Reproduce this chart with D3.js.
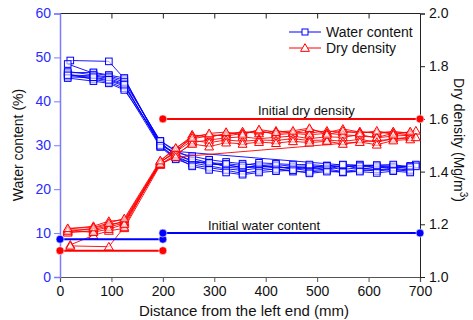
<!DOCTYPE html>
<html>
<head>
<meta charset="utf-8">
<script src="https://cdn.jsdelivr.net/npm/d3@7"></script>
<style>
  html, body { margin: 0; padding: 0; background: #fff; }
  svg { display: block; font-family: Arial, "Liberation Sans", Helvetica, sans-serif; }
</style>
</head>
<body>
<svg id="chart" width="473" height="320"></svg>
<script>
// Water content (%) profiles along the specimen, one array per test: [distance mm, value]
const water1 = [[20,49.3],[95,49.1],[125,45.2],[195,30.5],[225,28.0],[257,26.5],[290,25.8],[323,25.4],[355,25.0],[387,25.3],[420,24.8],[453,25.1],[485,24.6],[519,25.0],[550,24.5],[583,24.9],[616,24.4],[648,24.8],[681,24.3],[692,25.6]];
const water2 = [[15,48.5],[65,46.4],[95,45.8],[125,44.8],[195,30.8],[225,27.5],[257,25.9],[290,26.3],[323,25.0],[355,24.7],[387,25.5],[420,25.0],[453,24.9],[485,24.8],[519,25.4],[550,24.9],[583,25.6],[616,24.8],[648,25.2],[681,24.6]];
const water3 = [[15,46.5],[65,46.6],[95,46.0],[125,45.3],[195,30.0],[225,28.3],[257,27.5],[290,26.7],[323,26.2],[355,25.8],[387,25.4],[420,25.6],[453,25.2],[485,25.3],[519,25.0],[550,25.2],[583,25.1],[616,25.3],[648,24.9],[681,25.1]];
const water4 = [[15,46.0],[65,45.8],[95,45.2],[125,44.0],[195,29.8],[225,27.1],[257,26.0],[290,25.3],[323,24.6],[355,24.3],[387,24.8],[420,24.4],[453,24.7],[485,24.2],[519,24.6],[550,24.0],[583,24.5],[616,24.1],[648,24.6],[681,24.0]];
const water5 = [[15,45.6],[65,45.3],[95,44.7],[125,43.5],[195,30.3],[225,27.8],[257,26.4],[290,25.7],[323,25.6],[355,24.9],[387,25.0],[420,25.3],[453,24.5],[485,25.1],[519,24.4],[550,25.5],[583,24.6],[616,25.0],[648,25.0],[681,25.3]];
const water6 = [[15,46.2],[65,45.0],[95,44.4],[125,43.0],[195,29.6],[225,26.8],[257,25.5],[290,24.9],[323,24.3],[355,23.6],[387,24.2],[420,24.6],[453,24.0],[485,23.9],[519,24.3],[550,23.8],[583,24.2],[616,24.5],[648,24.3],[681,24.4]];
const water7 = [[15,45.3],[65,44.6],[95,44.1],[125,42.6],[195,30.9],[225,28.6],[550,25.5],[692,25.2]];
const water8 = [[15,46.8],[65,46.0],[95,45.5],[125,44.4],[195,31.0],[225,28.8],[257,27.0],[290,26.0],[323,25.8],[355,25.4],[387,26.0],[420,25.8],[453,25.6],[485,25.6],[519,25.3],[550,25.6],[583,25.4],[616,25.5],[648,25.6],[681,25.0]];
const water9 = [[15,45.9],[65,45.5],[95,44.9],[125,43.8],[195,29.9],[225,27.3],[257,25.2],[290,24.4],[323,23.8],[355,23.3],[387,23.8],[420,24.1],[453,24.3],[485,23.6],[519,24.0],[550,23.9],[583,24.0],[616,23.7],[648,24.1],[681,23.8]];

// Dry density (Mg/m3) profiles, one array per test: [distance mm, value]
const density1 = [[15,1.182],[65,1.193],[95,1.212],[125,1.217],[195,1.438],[225,1.470],[257,1.540],[290,1.530],[323,1.545],[355,1.548],[387,1.552],[420,1.545],[453,1.550],[485,1.546],[519,1.555],[550,1.548],[583,1.552],[616,1.545],[648,1.550],[681,1.548],[692,1.555]];
const density2 = [[15,1.172],[65,1.185],[95,1.200],[125,1.208],[195,1.432],[225,1.482],[257,1.525],[290,1.535],[323,1.540],[355,1.552],[387,1.545],[420,1.555],[453,1.548],[485,1.560],[519,1.548],[550,1.562],[583,1.550],[616,1.548],[648,1.552],[681,1.545]];
const density3 = [[20,1.122],[65,1.158],[95,1.175],[125,1.185],[195,1.425],[225,1.460],[257,1.510],[290,1.520],[323,1.528],[355,1.532],[387,1.525],[420,1.530],[453,1.535],[485,1.525],[519,1.532],[550,1.530],[583,1.540],[616,1.528],[648,1.535],[681,1.538]];
const density4 = [[20,1.118],[95,1.115],[125,1.190],[195,1.440],[225,1.488],[257,1.535],[290,1.540],[323,1.535],[355,1.545],[387,1.556],[420,1.540],[453,1.545],[485,1.540],[519,1.545],[550,1.540],[583,1.535],[616,1.530],[648,1.545],[681,1.540]];
const density5 = [[15,1.178],[65,1.180],[95,1.195],[125,1.212],[195,1.436],[225,1.475],[257,1.518],[290,1.510],[323,1.520],[355,1.515],[387,1.520],[420,1.518],[453,1.525],[485,1.518],[519,1.520],[550,1.515],[583,1.522],[616,1.512],[648,1.525],[681,1.530]];
const density6 = [[15,1.168],[65,1.175],[95,1.190],[125,1.205],[195,1.428],[225,1.465],[257,1.505],[290,1.495],[323,1.510],[355,1.505],[387,1.512],[420,1.508],[453,1.515],[485,1.510],[519,1.515],[550,1.505],[583,1.512],[616,1.502],[648,1.518],[681,1.522]];
const density7 = [[15,1.175],[65,1.170],[95,1.182],[125,1.200],[195,1.430],[225,1.455],[692,1.530]];
const density8 = [[15,1.185],[65,1.188],[95,1.205],[125,1.222],[195,1.442],[225,1.490],[257,1.528],[290,1.545],[323,1.550],[355,1.540],[387,1.560],[420,1.550],[453,1.555],[485,1.565],[519,1.540],[550,1.555],[583,1.545],[616,1.555],[648,1.540],[681,1.552]];

// Initial-state reference lines: [start mm, end mm, value]
const initialWaterLeft = [0, 200, 8.6];
const initialWaterRight = [200, 700, 10];
const initialDensityLeft = [0, 200, 1.10];
const initialDensityRight = [200, 700, 1.60];

// Axis ticks
const xTicks = [0, 100, 200, 300, 400, 500, 600, 700];
const waterTicks = [0, 10, 20, 30, 40, 50, 60];
const densityTicks = [1.0, 1.2, 1.4, 1.6, 1.8, 2.0];

const waterSeries = [water1, water2, water3, water4, water5, water6, water7, water8, water9];
const densitySeries = [density1, density2, density3, density4, density5, density6, density7, density8];

const BLUE = "#0000ff";
const RED = "#ff0000";
const LEFT_TEXT = "#2b2bff";

const svg = d3.select("#chart");
const x = d3.scaleLinear().domain([0, 700]).range([60, 420]);
const yW = d3.scaleLinear().domain([0, 60]).range([277, 13.5]);
const yD = d3.scaleLinear().domain([1.0, 2.0]).range([277, 13.5]);

// --- axes ---
function minorTicks(axisFn, scale, values, size) {
  return axisFn(scale).tickValues(values).tickSize(size).tickFormat("");
}

// bottom
const gB = svg.append("g").attr("transform", `translate(0,${yW(0)})`);
gB.call(minorTicks(d3.axisBottom, x, d3.range(50, 700, 100), 3));
gB.call(d3.axisBottom(x).tickValues(xTicks).tickSize(5).tickPadding(4).tickFormat(d3.format("d")));
gB.selectAll("path").attr("stroke", "#555").attr("stroke-width", 1.2);
gB.selectAll("line").attr("stroke", "#555");
gB.selectAll("text").attr("font-size", 14).attr("fill", "#111");

// top (ticks point inward)
const gT = svg.append("g").attr("transform", `translate(0,${yW(60)})`);
gT.call(minorTicks(d3.axisBottom, x, d3.range(50, 700, 100), 3));
gT.call(d3.axisBottom(x).tickValues(xTicks).tickSize(5).tickFormat(""));
gT.selectAll("path").attr("stroke", "#222").attr("d", `M${x(0)},0H${x(700)}`);
gT.selectAll("line").attr("stroke", "#222");

// left (water content)
const gL = svg.append("g").attr("transform", `translate(${x(0)},0)`);
gL.call(minorTicks(d3.axisLeft, yW, d3.range(5, 60, 10), 3));
gL.call(d3.axisLeft(yW).tickValues(waterTicks).tickSize(6).tickPadding(3).tickFormat(d3.format("d")));
gL.selectAll("path").attr("stroke", "#7b7bff").attr("stroke-width", 1.5);
gL.selectAll("line").attr("stroke", "#7b7bff");
gL.selectAll("text").attr("font-size", 14).attr("fill", LEFT_TEXT);

// right (dry density)
const gR = svg.append("g").attr("transform", `translate(${x(700)},0)`);
gR.call(minorTicks(d3.axisRight, yD, [1.1, 1.3, 1.5, 1.7, 1.9], 3));
gR.call(d3.axisRight(yD).tickValues(densityTicks).tickSize(5).tickPadding(4).tickFormat(d3.format(".1f")));
gR.selectAll("path").attr("stroke", "#222");
gR.selectAll("line").attr("stroke", "#222");
gR.selectAll("text").attr("font-size", 14).attr("fill", "#111");

// --- axis titles ---
svg.append("text")
  .attr("transform", `translate(23,145) rotate(-90)`)
  .attr("text-anchor", "middle").attr("font-size", 14).attr("fill", "#111")
  .text("Water content (%)");

const rt = svg.append("text")
  .attr("transform", `translate(454,140) rotate(90)`)
  .attr("text-anchor", "middle").attr("font-size", 14).attr("fill", "#111");
rt.append("tspan").text("Dry density (Mg/m");
rt.append("tspan").attr("font-size", 10).attr("dy", -6).text("3");
rt.append("tspan").attr("dy", 6).text(")");

svg.append("text")
  .attr("x", 244).attr("y", 316)
  .attr("text-anchor", "middle").attr("font-size", 15).attr("fill", "#111")
  .text("Distance from the left end (mm)");

// --- data ---
const plot = svg.append("g");

const lineW = d3.line().x(d => x(d[0])).y(d => yW(d[1]));
const lineD = d3.line().x(d => x(d[0])).y(d => yD(d[1]));
const tri = d3.symbol().type(d3.symbolTriangle).size(34);

waterSeries.forEach(s => {
  plot.append("path").attr("d", lineW(s))
    .attr("fill", "none").attr("stroke", BLUE).attr("stroke-width", 0.9);
});
waterSeries.forEach(s => {
  plot.selectAll(null).data(s).join("rect")
    .attr("x", d => x(d[0]) - 3.3).attr("y", d => yW(d[1]) - 3.3)
    .attr("width", 6.6).attr("height", 6.6)
    .attr("fill", "#fff").attr("fill-opacity", 0.6)
    .attr("stroke", BLUE).attr("stroke-width", 1);
});

densitySeries.forEach(s => {
  plot.append("path").attr("d", lineD(s))
    .attr("fill", "none").attr("stroke", RED).attr("stroke-width", 0.9);
});
densitySeries.forEach(s => {
  plot.selectAll(null).data(s).join("path")
    .attr("d", tri)
    .attr("transform", d => `translate(${x(d[0])},${yD(d[1]) + 0.8})`)
    .attr("fill", "#fff").attr("fill-opacity", 0.6)
    .attr("stroke", RED).attr("stroke-width", 1);
});

// --- initial state reference lines ---
function refLine(seg, yScale, color) {
  const g = svg.append("g");
  g.append("line")
    .attr("x1", x(seg[0])).attr("x2", x(seg[1]))
    .attr("y1", yScale(seg[2])).attr("y2", yScale(seg[2]))
    .attr("stroke", color).attr("stroke-width", 2);
  g.selectAll("circle").data([seg[0], seg[1]]).join("circle")
    .attr("cx", d => x(d)).attr("cy", yScale(seg[2])).attr("r", 4)
    .attr("fill", color).attr("stroke", "#fff").attr("stroke-width", 0.6);
}
refLine(initialWaterLeft, yW, BLUE);
refLine(initialWaterRight, yW, BLUE);
refLine(initialDensityLeft, yD, RED);
refLine(initialDensityRight, yD, RED);

svg.append("text").attr("x", 258).attr("y", 115)
  .attr("font-size", 13).attr("fill", "#111").text("Initial dry density");
svg.append("text").attr("x", 208).attr("y", 230)
  .attr("font-size", 13).attr("fill", "#111").text("Initial water content");

// --- legend ---
const leg = svg.append("g");
const legendItems = [
  { label: "Water content", color: BLUE, y: 32, shape: "square" },
  { label: "Dry density", color: RED, y: 48, shape: "triangle" }
];
legendItems.forEach(it => {
  leg.append("line").attr("x1", 289).attr("x2", 321).attr("y1", it.y).attr("y2", it.y)
    .attr("stroke", it.color).attr("stroke-width", 1);
  if (it.shape === "square") {
    leg.append("rect").attr("x", 302).attr("y", it.y - 3).attr("width", 6).attr("height", 6)
      .attr("fill", "#fff").attr("stroke", it.color);
  } else {
    leg.append("path").attr("d", d3.symbol().type(d3.symbolTriangle).size(34)())
      .attr("transform", `translate(305,${it.y + 0.8})`)
      .attr("fill", "#fff").attr("stroke", it.color);
  }
  leg.append("text").attr("x", 326).attr("y", it.y + 5)
    .attr("font-size", 14).attr("fill", "#111").text(it.label);
});
</script>
</body>
</html>
